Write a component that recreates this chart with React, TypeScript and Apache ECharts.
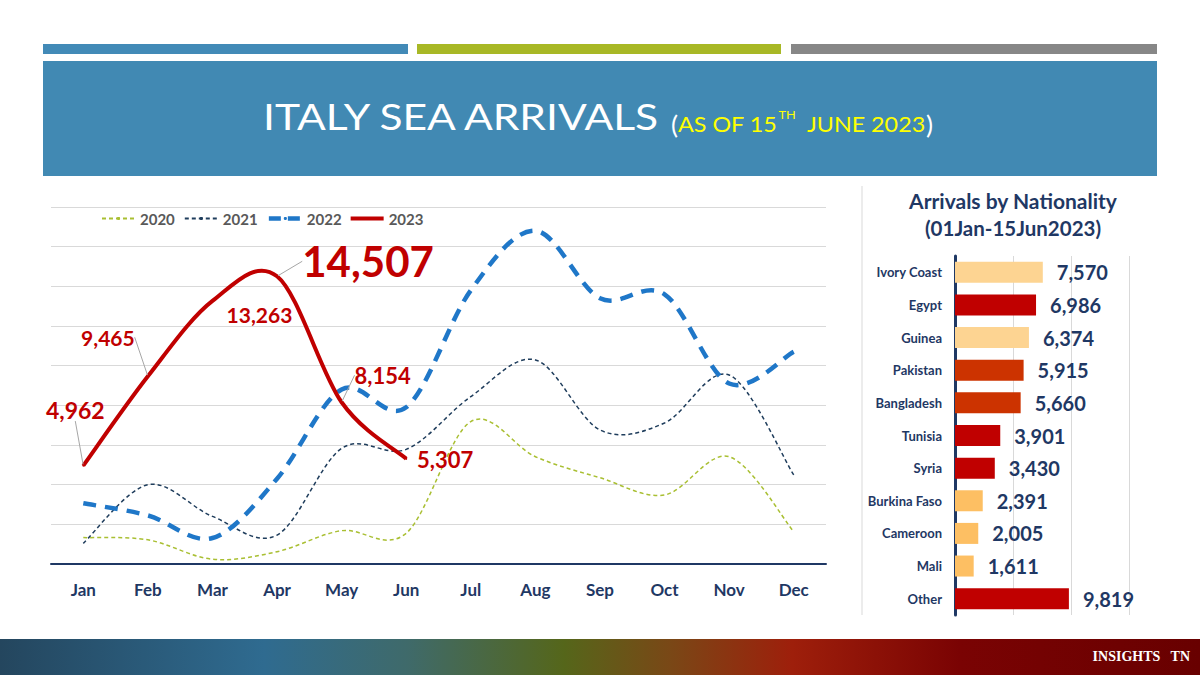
import React, { useEffect, useRef } from 'react';
import * as echarts from 'echarts';

// ---------- data ----------
const months = ['Jan', 'Feb', 'Mar', 'Apr', 'May', 'Jun', 'Jul', 'Aug', 'Sep', 'Oct', 'Nov', 'Dec'];
const years = ['2020', '2021', '2022', '2023'];
const arrivals2020 = [1330, 1220, 240, 620, 1680, 1550, 7180, 5410, 4350, 3480, 5410, 1630];
const arrivals2021 = [1040, 4000, 2400, 1460, 5830, 5780, 8440, 10290, 6760, 7110, 9530, 4490];
const arrivals2022 = [3060, 2450, 1310, 4300, 8800, 7900, 13800, 16800, 13400, 13600, 9100, 10700];
const arrivals2023 = [4962, 9465, 13263, 14507, 8154, 5307];

const nationalities = ['Ivory Coast', 'Egypt', 'Guinea', 'Pakistan', 'Bangladesh', 'Tunisia', 'Syria', 'Burkina Faso', 'Cameroon', 'Mali', 'Other'];
const nationalityValues = [7570, 6986, 6374, 5915, 5660, 3901, 3430, 2391, 2005, 1611, 9819];
const nationalityColors = ['#fdd492', '#c00000', '#fdd492', '#cc3300', '#cc3300', '#c00000', '#c00000', '#fdbf63', '#fdbf63', '#fdbf63', '#c00000'];

// label placement for 2023 data labels (offset from point, px)
const labelShift: number[][] = [[-8, -56], [-40, -39], [47, 14], [91, -15], [41, -27], [39, 1]];
const labelLeader = [true, true, false, true, true, false];
const labelSize = [23, 21, 21, 42, 22, 22];

const NAVY = '#1f3864';
const RED = '#c00000';
const FONT = 'Lato, "Noto Sans", sans-serif';

const fmt = (v: number) => v.toLocaleString('en-US');

// line styles per year
const yearSeries = [
  { name: '2020', values: arrivals2020, color: '#a9bf32', width: 1.5, dash: [4, 3] as number[] | null },
  { name: '2021', values: arrivals2021, color: '#1f3d5c', width: 1.5, dash: [4, 3] as number[] | null },
  { name: '2022', values: arrivals2022, color: '#1f77c8', width: 4.5, dash: [13, 9] as number[] | null },
  { name: '2023', values: arrivals2023, color: RED, width: 4, dash: null as number[] | null },
];

// Excel-like (Catmull-Rom) smoothed path through points mapped by the axes
function smoothPath(values: number[], api: any): string {
  const p = values.map((v, i) => api.coord([i, v]));
  let d = `M${p[0][0]},${p[0][1]}`;
  for (let i = 0; i < p.length - 1; i++) {
    const p0 = p[i - 1] || p[i];
    const p1 = p[i];
    const p2 = p[i + 1];
    const p3 = p[i + 2] || p[i + 1];
    const c1x = p1[0] + (p2[0] - p0[0]) / 6;
    const c1y = p1[1] + (p2[1] - p0[1]) / 6;
    const c2x = p2[0] - (p3[0] - p1[0]) / 6;
    const c2y = p2[1] - (p3[1] - p1[1]) / 6;
    d += ` C${c1x},${c1y} ${c2x},${c2y} ${p2[0]},${p2[1]}`;
  }
  return d;
}

export default function App() {
  const ref = useRef<HTMLDivElement>(null);
  useEffect(() => {
    const chart = echarts.init(ref.current!, null, { renderer: 'svg' });

    // empty line series only supply legend icons
    const legendSeries = yearSeries.map((s) => ({
      name: s.name,
      type: 'line',
      data: [],
      symbol: 'none',
      itemStyle: { color: s.color },
      lineStyle: { color: s.color, width: s.width, type: s.dash || 'solid' },
    }));

    const curveSeries = yearSeries.map((s, k) => ({
      name: s.name,
      type: 'custom',
      coordinateSystem: 'cartesian2d',
      xAxisIndex: 0,
      yAxisIndex: 0,
      z: 2 + k,
      silent: true,
      data: s.values,
      renderItem: (params: any, api: any) => {
        if (params.dataIndex !== 0) return { type: 'group', children: [] };
        return {
          type: 'path',
          shape: { pathData: smoothPath(s.values, api) },
          style: {
            fill: 'none',
            stroke: s.color,
            lineWidth: s.width,
            lineDash: s.dash || undefined,
            lineJoin: 'round',
          },
        };
      },
    }));

    const option: any = {
      animation: false,
      backgroundColor: '#ffffff',
      textStyle: { fontFamily: FONT },
      legend: {
        left: 96,
        top: 206,
        itemWidth: 33,
        itemHeight: 4,
        itemGap: 9,
        textStyle: { fontFamily: FONT, fontSize: 15, fontWeight: 'bold', color: '#595959' },
        data: [
          { name: years[0] },
          { name: years[1] },
          { name: years[2], lineStyle: { type: [12, 7], width: 4.5 } },
          { name: years[3], icon: 'rect', itemStyle: { color: RED } },
        ],
      },
      grid: [
        { left: 51, top: 207, width: 775, height: 357 },
        { left: 955, top: 256, width: 174, height: 359 },
      ],
      xAxis: [
        {
          type: 'category',
          gridIndex: 0,
          data: months,
          axisLine: { lineStyle: { color: NAVY, width: 2 } },
          axisTick: { show: false },
          axisLabel: { color: NAVY, fontFamily: FONT, fontSize: 17, fontWeight: 'bold', margin: 17 },
        },
        {
          type: 'value',
          gridIndex: 1,
          min: 0,
          max: 15000,
          interval: 5000,
          axisLine: { show: false },
          axisTick: { show: false },
          axisLabel: { show: false },
          splitLine: { lineStyle: { color: '#d9d9d9', width: 1 } },
        },
      ],
      yAxis: [
        {
          type: 'value',
          gridIndex: 0,
          min: 0,
          max: 18000,
          interval: 2000,
          axisLine: { show: false },
          axisTick: { show: false },
          axisLabel: { show: false },
          splitLine: { lineStyle: { color: '#d9d9d9', width: 1.2 } },
        },
        {
          type: 'category',
          gridIndex: 1,
          inverse: true,
          data: nationalities,
          axisLine: { lineStyle: { color: NAVY, width: 3 } },
          axisTick: { show: false },
          axisLabel: { color: NAVY, fontFamily: FONT, fontSize: 13, fontWeight: 'bold', margin: 13 },
        },
      ],
      series: [
        ...legendSeries,
        ...curveSeries,
        {
          name: '2023 labels',
          type: 'scatter',
          symbolSize: 2,
          itemStyle: { color: RED, opacity: 1 },
          z: 10,
          data: arrivals2023.map((v, i) => ({
            value: v,
            label: { fontSize: labelSize[i] },
            labelLine: { show: labelLeader[i] },
          })),
          label: {
            show: true,
            position: 'inside',
            color: RED,
            opacity: 1,
            fontFamily: FONT,
            fontWeight: 'bold',
            formatter: (p: any) => fmt(p.value),
          },
          labelLine: { show: true, lineStyle: { color: '#a6a6a6', width: 1, opacity: 1 } },
          labelLayout: (p: any) => ({ dx: labelShift[p.dataIndex][0], dy: labelShift[p.dataIndex][1] }),
        },
        {
          name: 'Nationality',
          type: 'bar',
          xAxisIndex: 1,
          yAxisIndex: 1,
          barWidth: 21,
          data: nationalityValues.map((v, i) => ({ value: v, itemStyle: { color: nationalityColors[i] } })),
          label: {
            show: true,
            position: 'right',
            distance: 14,
            color: NAVY,
            fontFamily: FONT,
            fontSize: 20,
            fontWeight: 'bold',
            formatter: (p: any) => fmt(p.value),
          },
        },
      ],
      graphic: [
        // top colour strips
        { type: 'rect', shape: { x: 43, y: 44, width: 365, height: 10 }, style: { fill: '#428ab7' } },
        { type: 'rect', shape: { x: 417, y: 44, width: 364, height: 10 }, style: { fill: '#a8b826' } },
        { type: 'rect', shape: { x: 791, y: 44, width: 366, height: 10 }, style: { fill: '#878787' } },
        // header band
        { type: 'rect', shape: { x: 43, y: 61, width: 1114, height: 115 }, style: { fill: '#4189b3' } },
        {
          type: 'text',
          x: 263,
          y: 116,
          scaleX: 1.15,
          style: {
            text: 'ITALY SEA ARRIVALS',
            fill: '#ffffff',
            font: '37px Lato, sans-serif',
            verticalAlign: 'middle',
          },
        },
        {
          type: 'text',
          x: 671,
          y: 124,
          scaleX: 1.06,
          style: {
            text: '{w|(}{y|AS OF 15}{s|TH}{y|  JUNE 2023}{w|)}',
            verticalAlign: 'middle',
            rich: {
              w: { fill: '#ffffff', fontSize: 25, fontFamily: 'Lato, sans-serif', lineHeight: 30 },
              y: { fill: '#ffff00', fontSize: 22, fontFamily: 'Lato, sans-serif', lineHeight: 30 },
              s: { fill: '#ffff00', fontSize: 12, fontFamily: 'Lato, sans-serif', lineHeight: 30, verticalAlign: 'top', padding: [0, 0, 0, 1] },
            },
          },
        },
        // right panel separator and titles
        { type: 'line', shape: { x1: 862, y1: 186, x2: 862, y2: 615 }, style: { stroke: '#d9d9d9', lineWidth: 1 } },
        {
          type: 'text',
          x: 1013,
          y: 200,
          style: { text: 'Arrivals by Nationality', fill: NAVY, font: 'bold 21px Lato, sans-serif', align: 'center', verticalAlign: 'middle' },
        },
        {
          type: 'text',
          x: 1013,
          y: 228,
          style: { text: '(01Jan-15Jun2023)', fill: NAVY, font: 'bold 20.5px Lato, sans-serif', align: 'center', verticalAlign: 'middle' },
        },
        // footer
        {
          type: 'rect',
          shape: { x: 0, y: 639, width: 1200, height: 36 },
          style: {
            fill: new echarts.graphic.LinearGradient(0, 0, 1, 0, [
              { offset: 0, color: '#24465e' },
              { offset: 0.22, color: '#2f6b90' },
              { offset: 0.34, color: '#3f6a6a' },
              { offset: 0.47, color: '#55661a' },
              { offset: 0.56, color: '#7a4716' },
              { offset: 0.66, color: '#9e1f0b' },
              { offset: 0.8, color: '#7a0303' },
              { offset: 1, color: '#680000' },
            ]),
          },
        },
        {
          type: 'text',
          x: 1190,
          y: 656,
          style: { text: 'INSIGHTS   TN', fill: '#ffffff', font: 'bold 14px "Liberation Serif", serif', align: 'right', verticalAlign: 'middle' },
        },
      ],
    };
    chart.setOption(option);
    return () => chart.dispose();
  }, []);
  return <div ref={ref} style={{ position: 'fixed', left: 0, top: 0, width: 1200, height: 675, background: '#fff' }} />;
}
